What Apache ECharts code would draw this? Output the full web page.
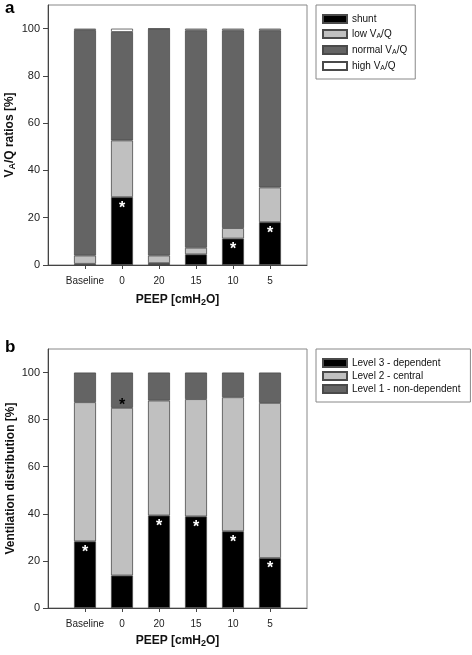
<!DOCTYPE html>
<html>
<head>
<meta charset="utf-8">
<script src="https://cdn.jsdelivr.net/npm/echarts@6/dist/echarts.min.js"></script>
<style>html,body{margin:0;padding:0;background:#fff}#c{width:472px;height:655px}</style>
</head>
<body>
<div id="c"></div>
<script>
// ---- data ----
const categories = ['Baseline', '0', '20', '15', '10', '5'];
const yTicks = [0, 20, 40, 60, 80, 100];
// panel a: VA/Q ratios [%]
const shunt  = [0.5, 28.7, 0.8, 4.5, 11.2, 18.1];
const lowVQ  = [3.5, 24.0, 3.2, 2.8, 4.4, 14.7];
const normVQ = [95.4, 45.9, 95.9, 92.0, 83.7, 66.5];
const highVQ = [0.6, 1.4, 0.1, 0.7, 0.7, 0.7];
const sigShunt = [false, true, false, false, true, true];
// panel b: ventilation distribution [%]
const level3 = [28.3, 13.8, 39.3, 38.9, 32.6, 21.2];
const level2 = [59.1, 71.2, 48.8, 49.8, 56.9, 65.9];
const level1 = [12.6, 15.0, 11.9, 11.3, 10.5, 12.9];
const sigLevel3 = [true, false, true, true, true, true];
const sigLevel1 = [false, true, false, false, false, false];

// ---- helpers ----
const FONT = 'Liberation Sans, Arial, sans-serif';
const axisCats = [''].concat(categories, ['']);
const pad = arr => [null].concat(arr, [null]);
const BORDER = '#4a4a4a';
const subRich = {
  t: { fontSize: 10, fontFamily: FONT, color: '#111' },
  s: { fontSize: 7, fontFamily: FONT, color: '#111', padding: [5, 0, 0, 0] }
};
const nameRich = {
  t: { fontSize: 12, fontWeight: 'bold', fontFamily: FONT, color: '#111' },
  s: { fontSize: 9, fontWeight: 'bold', fontFamily: FONT, color: '#111', padding: [6, 0, 0, 0] }
};
const legendNames = {
  'shunt': '{t|shunt}',
  'low VA/Q': '{t|low V}{s|A}{t|/Q}',
  'normal VA/Q': '{t|normal V}{s|A}{t|/Q}',
  'high VA/Q': '{t|high V}{s|A}{t|/Q}',
  'Level 3 - dependent': '{t|Level 3 - dependent}',
  'Level 2 - central': '{t|Level 2 - central}',
  'Level 1 - non-dependent': '{t|Level 1 - non-dependent}'
};

function xAxis(gi, gap) {
  return {
    type: 'category', gridIndex: gi, data: axisCats, boundaryGap: false,
    name: '{t|PEEP [cmH}{s|2}{t|O]}', nameLocation: 'middle', nameGap: gap,
    nameMoveOverlap: false,
    nameTextStyle: { rich: nameRich },
    axisLine: { lineStyle: { color: '#444', width: 1 } },
    axisTick: { length: 4, lineStyle: { color: '#444' }, interval: (i, v) => v !== '' },
    axisLabel: { fontSize: 10, fontFamily: FONT, color: '#222', margin: 11, interval: 0 },
    splitLine: { show: false }
  };
}
function yAxis(gi, name) {
  return {
    type: 'value', gridIndex: gi, min: 0, max: 110, interval: 20,
    name: name, nameLocation: 'middle', nameGap: 31, nameMoveOverlap: false,
    nameTextStyle: { rich: nameRich },
    axisLine: { show: true, lineStyle: { color: '#444', width: 1 } },
    axisTick: { show: true, length: 5, lineStyle: { color: '#444' }, customValues: yTicks },
    axisLabel: { fontSize: 11, fontFamily: FONT, color: '#222', margin: 8, customValues: yTicks },
    splitLine: { show: false }
  };
}
function bar(name, data, color, gi, label) {
  const s = {
    name: name, type: 'bar', stack: 'g' + gi, xAxisIndex: gi, yAxisIndex: gi,
    data: pad(data), barWidth: 22,
    itemStyle: { color: color, borderColor: BORDER, borderWidth: 0.8 },
    emphasis: { disabled: true }
  };
  if (label) s.label = label;
  return s;
}
function starLabel(sig, color, position, distance, offset) {
  return {
    show: true, position: position, distance: distance, offset: offset || [0, 0],
    color: color, fontSize: 16, fontWeight: 'bold', fontFamily: FONT,
    formatter: p => (sig[p.dataIndex - 1] ? '*' : '')
  };
}

const chart = echarts.init(document.getElementById('c'), null, { renderer: 'canvas' });
chart.setOption({
  animation: false,
  backgroundColor: '#fff',
  title: [
    { text: 'a', left: 0, top: -5, textStyle: { fontSize: 17, fontWeight: 'bold', fontFamily: FONT, color: '#000' } },
    { text: 'b', left: 0, top: 334, textStyle: { fontSize: 17, fontWeight: 'bold', fontFamily: FONT, color: '#000' } }
  ],
  grid: [
    { left: 48, top: 5, width: 259, height: 260, show: true, borderColor: '#888', borderWidth: 1, outerBoundsMode: 'none', containLabel: false },
    { left: 48, top: 349, width: 259, height: 259, show: true, borderColor: '#888', borderWidth: 1, outerBoundsMode: 'none', containLabel: false }
  ],
  legend: [
    {
      orient: 'vertical', left: 316, top: 5,
      data: ['shunt', 'low VA/Q', 'normal VA/Q', 'high VA/Q'],
      itemWidth: 24, itemHeight: 8, itemGap: 5,
      padding: [9, 8, 7, 6], borderColor: '#888', borderWidth: 1,
      icon: 'rect', selectedMode: false,
      formatter: n => legendNames[n],
      textStyle: { rich: subRich }
    },
    {
      orient: 'vertical', left: 316, top: 349,
      data: ['Level 3 - dependent', 'Level 2 - central', 'Level 1 - non-dependent'],
      itemWidth: 24, itemHeight: 8, itemGap: 3,
      padding: [9, 10, 8, 6], borderColor: '#888', borderWidth: 1,
      icon: 'rect', selectedMode: false,
      formatter: n => legendNames[n],
      textStyle: { rich: subRich }
    }
  ],
  xAxis: [xAxis(0, 27), xAxis(1, 25)],
  yAxis: [
    yAxis(0, '{t|V}{s|A}{t|/Q ratios [%]}'),
    yAxis(1, '{t|Ventilation distribution [%]}')
  ],
  series: [
    bar('shunt', shunt, '#000', 0, starLabel(sigShunt, '#fff', 'insideTop', 3)),
    bar('low VA/Q', lowVQ, '#c0c0c0', 0),
    bar('normal VA/Q', normVQ, '#646464', 0),
    bar('high VA/Q', highVQ, '#ffffff', 0),
    bar('Level 3 - dependent', level3, '#000', 1, starLabel(sigLevel3, '#fff', 'insideTop', 3)),
    bar('Level 2 - central', level2, '#c0c0c0', 1),
    bar('Level 1 - non-dependent', level1, '#646464', 1, starLabel(sigLevel1, '#000', 'insideBottom', 0, [0, 6]))
  ]
});
</script>
</body>
</html>
